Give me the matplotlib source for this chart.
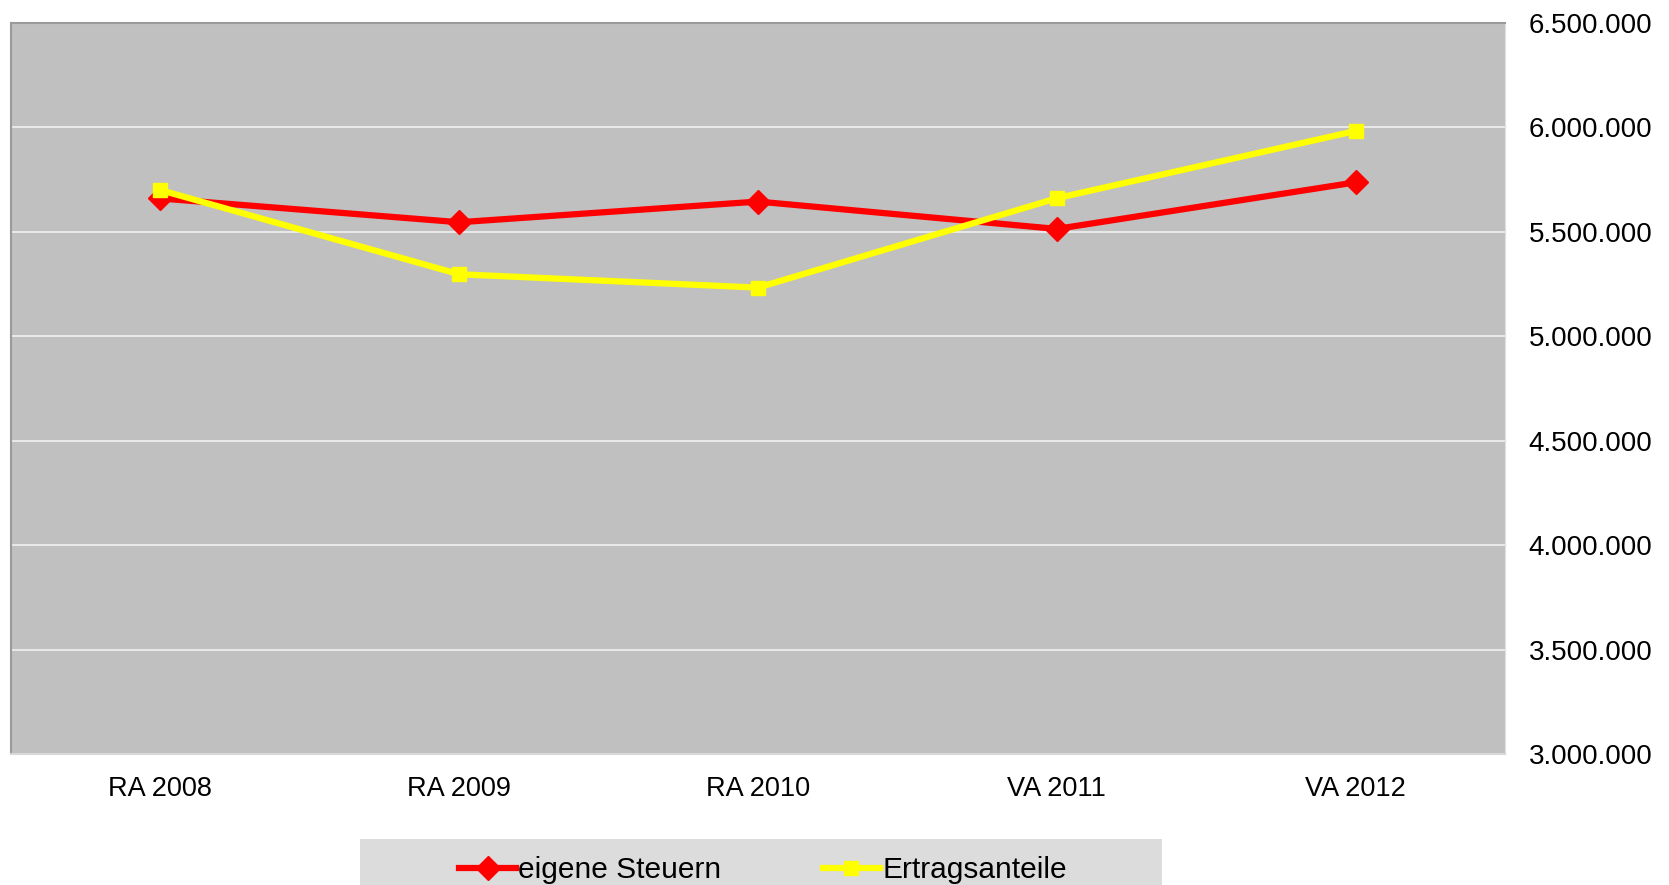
import matplotlib
matplotlib.use("Agg")
import matplotlib.pyplot as plt
from matplotlib.patches import Rectangle
from matplotlib.ticker import FuncFormatter, MultipleLocator

categories = ["RA 2008", "RA 2009", "RA 2010", "VA 2011", "VA 2012"]
eigene_steuern = [5660000, 5546000, 5645000, 5514000, 5737000]
ertragsanteile = [5700000, 5297000, 5233000, 5661000, 5983000]

plt.rcParams['font.family'] = ['Liberation Sans', 'DejaVu Sans']

W, H = 1669, 885
fig = plt.figure(figsize=(W / 100, H / 100), dpi=100)
ax = fig.add_axes([11 / W, 1 - 754 / H, (1505 - 11) / W, (754 - 23) / H])
ax.set_facecolor('#c0c0c0')

x = list(range(len(categories)))
ax.plot(x, eigene_steuern, color='#ff0000', lw=4.5, marker='D', ms=12.5,
        label='eigene Steuern', zorder=3)
ax.plot(x, ertragsanteile, color='#ffff00', lw=4.5, marker='s', ms=10,
        label='Ertragsanteile', zorder=4)

ax.set_xlim(-0.5, len(categories) - 0.5)
ax.set_ylim(3000000, 6500000)
ax.yaxis.set_major_locator(MultipleLocator(500000))
ax.yaxis.set_major_formatter(FuncFormatter(lambda v, p: f"{int(v):,}".replace(",", ".")))
ax.yaxis.tick_right()
ax.set_xticks(x)
ax.set_xticklabels(categories)
ax.tick_params(axis='y', length=0, pad=17, labelsize=20)
ax.tick_params(axis='x', length=0, pad=16, labelsize=19.5)
ax.grid(axis='y', color='#eaeaea', lw=1.4)
ax.set_axisbelow(True)
for s in ['left', 'top']:
    ax.spines[s].set_color('#9a9a9a')
    ax.spines[s].set_linewidth(1.5)
ax.spines['right'].set_color('#e0e0e0')
ax.spines['bottom'].set_color('#d8d8d8')
ax.spines['bottom'].set_linewidth(1.5)

fig.patches.append(Rectangle((360 / W, 0), (1162 - 360) / W, (885 - 839) / H,
                             transform=fig.transFigure, facecolor='#dcdcdc',
                             edgecolor='none', zorder=0))
fig.legend(loc='center', bbox_to_anchor=(763 / W, 1 - 870 / H), ncol=2,
           frameon=False, fontsize=21.5, handlelength=1.9, handletextpad=0.08,
           columnspacing=3.4)

fig.savefig('out.png', dpi=100)
